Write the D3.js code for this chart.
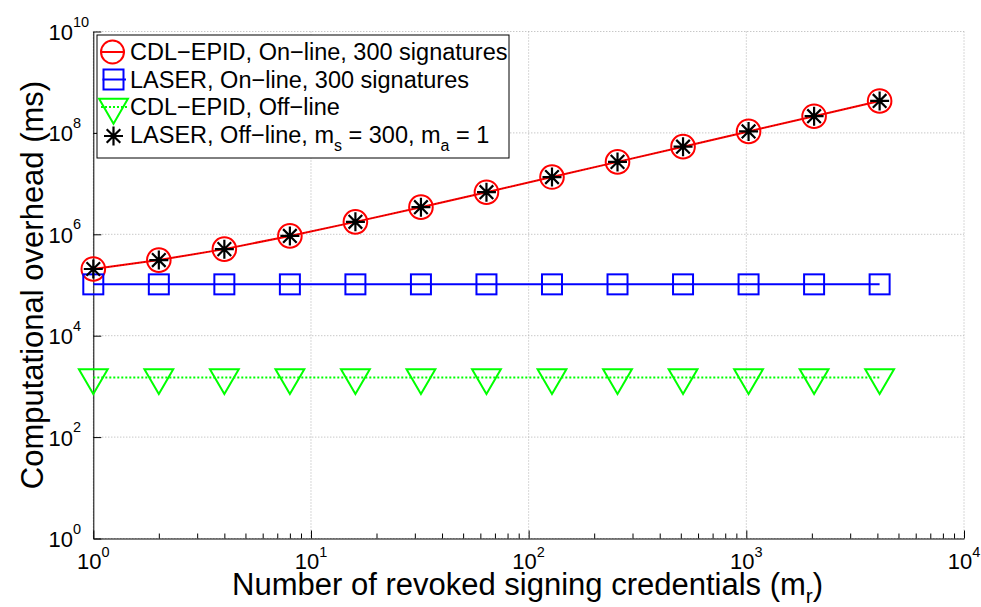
<!DOCTYPE html>
<html><head><meta charset="utf-8">
<script src="https://cdn.jsdelivr.net/npm/d3@7"></script>
<style>
body{margin:0;background:#fff}
text{font-family:"Liberation Sans", Arial, Helvetica, sans-serif;fill:#000}
</style>
</head><body>
<svg id="c" width="981" height="607"></svg>
<script>
// ---- data ----
const xValues = [1, 2, 4, 8, 16, 32, 64, 128, 256, 512, 1024, 2048, 4096];
const cdlOnline = [2.07e5, 3.1e5, 5.1e5, 9.3e5, 1.76e6, 3.43e6, 6.77e6, 1.345e7, 2.68e7, 5.35e7, 1.07e8, 2.135e8, 4.27e8];
const laserOnline = [1.03e5, 1.03e5, 1.03e5, 1.03e5, 1.03e5, 1.03e5, 1.03e5, 1.03e5, 1.03e5, 1.03e5, 1.03e5, 1.03e5, 1.03e5];
const cdlOffline = [1.5e3, 1.5e3, 1.5e3, 1.5e3, 1.5e3, 1.5e3, 1.5e3, 1.5e3, 1.5e3, 1.5e3, 1.5e3, 1.5e3, 1.5e3];
const laserOffline = [2.07e5, 3.1e5, 5.1e5, 9.3e5, 1.76e6, 3.43e6, 6.77e6, 1.345e7, 2.68e7, 5.35e7, 1.07e8, 2.135e8, 4.27e8];
const xTickExps = [0, 1, 2, 3, 4];
const yTickExps = [0, 2, 4, 6, 8, 10];
const legendLabels = ["CDL\u2212EPID, On\u2212line, 300 signatures", "LASER, On\u2212line, 300 signatures", "CDL\u2212EPID, Off\u2212line"];

// ---- layout ----
const svg = d3.select("#c");
const L = 93.3, R = 964, T = 31.5, B = 538.5;
const x = d3.scaleLog().domain([1, 1e4]).range([L, R]);
const y = d3.scaleLog().domain([1, 1e10]).range([B, T]);

const gridStyle = g => g.attr("stroke", "#b0b0b0").attr("stroke-width", 1).attr("stroke-dasharray", "1,2").attr("fill", "none");

// grid
const grid = svg.append("g").call(gridStyle);
xTickExps.forEach(e => {
  grid.append("line").attr("x1", x(Math.pow(10, e))).attr("x2", x(Math.pow(10, e))).attr("y1", T).attr("y2", B);
});
yTickExps.forEach(e => {
  grid.append("line").attr("y1", y(Math.pow(10, e))).attr("y2", y(Math.pow(10, e))).attr("x1", L).attr("x2", R);
});

// axes
const minorX = [];
for (let e = 0; e < 4; e++) for (let m = 2; m <= 9; m++) minorX.push(m * Math.pow(10, e));
const majorX = xTickExps.map(e => Math.pow(10, e));

const ax = svg.append("g").attr("transform", `translate(0,${B})`);
ax.call(d3.axisBottom(x).tickValues(minorX).tickSizeInner(-5).tickSizeOuter(0).tickFormat(""));
ax.call(g => g.select(".domain").remove());
const ax2 = svg.append("g").attr("transform", `translate(0,${B})`);
ax2.call(d3.axisBottom(x).tickValues(majorX).tickSizeInner(-8).tickSizeOuter(0).tickFormat(""));
ax2.selectAll("path.domain").attr("stroke", "#000");
svg.selectAll(".tick line").attr("stroke", "#000");

const ay = svg.append("g").attr("transform", `translate(${L},0)`);
ay.call(d3.axisLeft(y).tickValues(yTickExps.map(e => Math.pow(10, e))).tickSizeInner(-8).tickSizeOuter(0).tickFormat(""));
ay.selectAll("path.domain").attr("stroke", "#000");
ay.selectAll(".tick line").attr("stroke", "#000");

// tick labels
xTickExps.forEach(e => {
  const t = svg.append("text").attr("x", x(Math.pow(10, e))).attr("y", 569).attr("text-anchor", "middle").attr("font-size", 22);
  t.append("tspan").text("10");
  t.append("tspan").attr("dy", -12.5).attr("font-size", 14.5).text(e);
});
yTickExps.forEach(e => {
  const t = svg.append("text").attr("x", 48.5).attr("y", y(Math.pow(10, e)) + 8.5).attr("font-size", 22);
  t.append("tspan").text("10");
  t.append("tspan").attr("dy", -13.5).attr("font-size", 14.5).text(e);
});

// axis titles
const xt = svg.append("text").attr("x", (L + R) / 2 - 1).attr("y", 595).attr("text-anchor", "middle").attr("font-size", 31);
xt.append("tspan").text("Number of revoked signing credentials (m");
xt.append("tspan").attr("dy", 8).attr("font-size", 21).text("r");
xt.append("tspan").attr("dy", -8).text(")");

svg.append("text").attr("transform", `translate(43,${(T + B) / 2}) rotate(-90)`).attr("text-anchor", "middle").attr("font-size", 31)
  .text("Computational overhead (ms)");

// ---- series ----
const pts = vals => xValues.map((d, i) => [x(d), y(vals[i])]);
const line = d3.line();

// red
svg.append("path").attr("d", line(pts(cdlOnline))).attr("fill", "none").attr("stroke", "#ff0000").attr("stroke-width", 2);
svg.append("path").attr("d", line(pts(laserOffline))).attr("fill", "none").attr("stroke", "#400").attr("stroke-width", 0.8).attr("stroke-dasharray", "1,2").attr("opacity", 0.6);
svg.append("g").selectAll("circle").data(pts(cdlOnline)).join("circle")
  .attr("cx", d => d[0]).attr("cy", d => d[1]).attr("r", 11.8)
  .attr("fill", "none").attr("stroke", "#ff0000").attr("stroke-width", 2);

// blue
svg.append("path").attr("d", line(pts(laserOnline))).attr("fill", "none").attr("stroke", "#0000ff").attr("stroke-width", 2);
svg.append("g").selectAll("rect").data(pts(laserOnline)).join("rect")
  .attr("x", d => d[0] - 10).attr("y", d => d[1] - 10).attr("width", 20).attr("height", 20)
  .attr("fill", "none").attr("stroke", "#0000ff").attr("stroke-width", 2);

// green
svg.append("path").attr("d", line(pts(cdlOffline))).attr("fill", "none").attr("stroke", "#00ff00").attr("stroke-width", 2).attr("stroke-dasharray", "2,2");
const tri = d3.symbol().type(d3.symbolTriangle).size(360);
svg.append("g").selectAll("path").data(pts(cdlOffline)).join("path")
  .attr("d", tri).attr("transform", d => `translate(${d[0]},${d[1]}) rotate(180)`)
  .attr("fill", "none").attr("stroke", "#00ff00").attr("stroke-width", 2);

// black asterisks
const star = (s, d) => `M${-s},0H${s}M0,${-s}V${s}M${-d},${-d}L${d},${d}M${-d},${d}L${d},${-d}`;
svg.append("g").selectAll("path").data(pts(laserOffline)).join("path")
  .attr("d", star(9.5, 6.8)).attr("transform", d => `translate(${d[0]},${d[1]})`)
  .attr("fill", "none").attr("stroke", "#000").attr("stroke-width", 2.2);

// ---- legend ----
const lg = svg.append("g");
lg.append("rect").attr("x", 97).attr("y", 35).attr("width", 412).attr("height", 123).attr("fill", "#fff").attr("stroke", "#000").attr("stroke-width", 1);
const rows = [52, 79.5, 107, 134.5];
const mx = 113.5;
// red
lg.append("line").attr("x1", 101.5).attr("x2", 125).attr("y1", rows[0]).attr("y2", rows[0]).attr("stroke", "#f00").attr("stroke-width", 2);
lg.append("circle").attr("cx", 112.5).attr("cy", rows[0]).attr("r", 11.5).attr("fill", "none").attr("stroke", "#f00").attr("stroke-width", 2);
// blue
lg.append("line").attr("x1", 102.5).attr("x2", 126).attr("y1", rows[1]).attr("y2", rows[1]).attr("stroke", "#00f").attr("stroke-width", 2);
lg.append("rect").attr("x", mx - 10).attr("y", rows[1] - 10).attr("width", 20).attr("height", 20).attr("fill", "none").attr("stroke", "#00f").attr("stroke-width", 2);
// green
lg.append("line").attr("x1", 101).attr("x2", 127).attr("y1", rows[2]).attr("y2", rows[2]).attr("stroke", "#0f0").attr("stroke-width", 2).attr("stroke-dasharray", "2,2");
lg.append("path").attr("d", tri).attr("transform", `translate(${mx},${rows[2]}) rotate(180)`).attr("fill", "none").attr("stroke", "#0f0").attr("stroke-width", 2);
// black
lg.append("path").attr("d", star(9.5, 6.8)).attr("transform", `translate(${mx},${rows[3] + 1.5})`).attr("fill", "none").attr("stroke", "#000").attr("stroke-width", 2.2);

legendLabels.forEach((s, i) => {
  lg.append("text").attr("x", 130).attr("y", rows[i] + 8).attr("font-size", 23.5).text(s);
});
const t4 = lg.append("text").attr("x", 130).attr("y", rows[3] + 8).attr("font-size", 23.5);
t4.append("tspan").text("LASER, Off\u2212line, m");
t4.append("tspan").attr("dy", 8).attr("font-size", 16).text("s");
t4.append("tspan").attr("dy", -8).text(" = 300, m");
t4.append("tspan").attr("dy", 8).attr("font-size", 16).text("a");
t4.append("tspan").attr("dy", -8).text(" = 1");
</script>
</body></html>
